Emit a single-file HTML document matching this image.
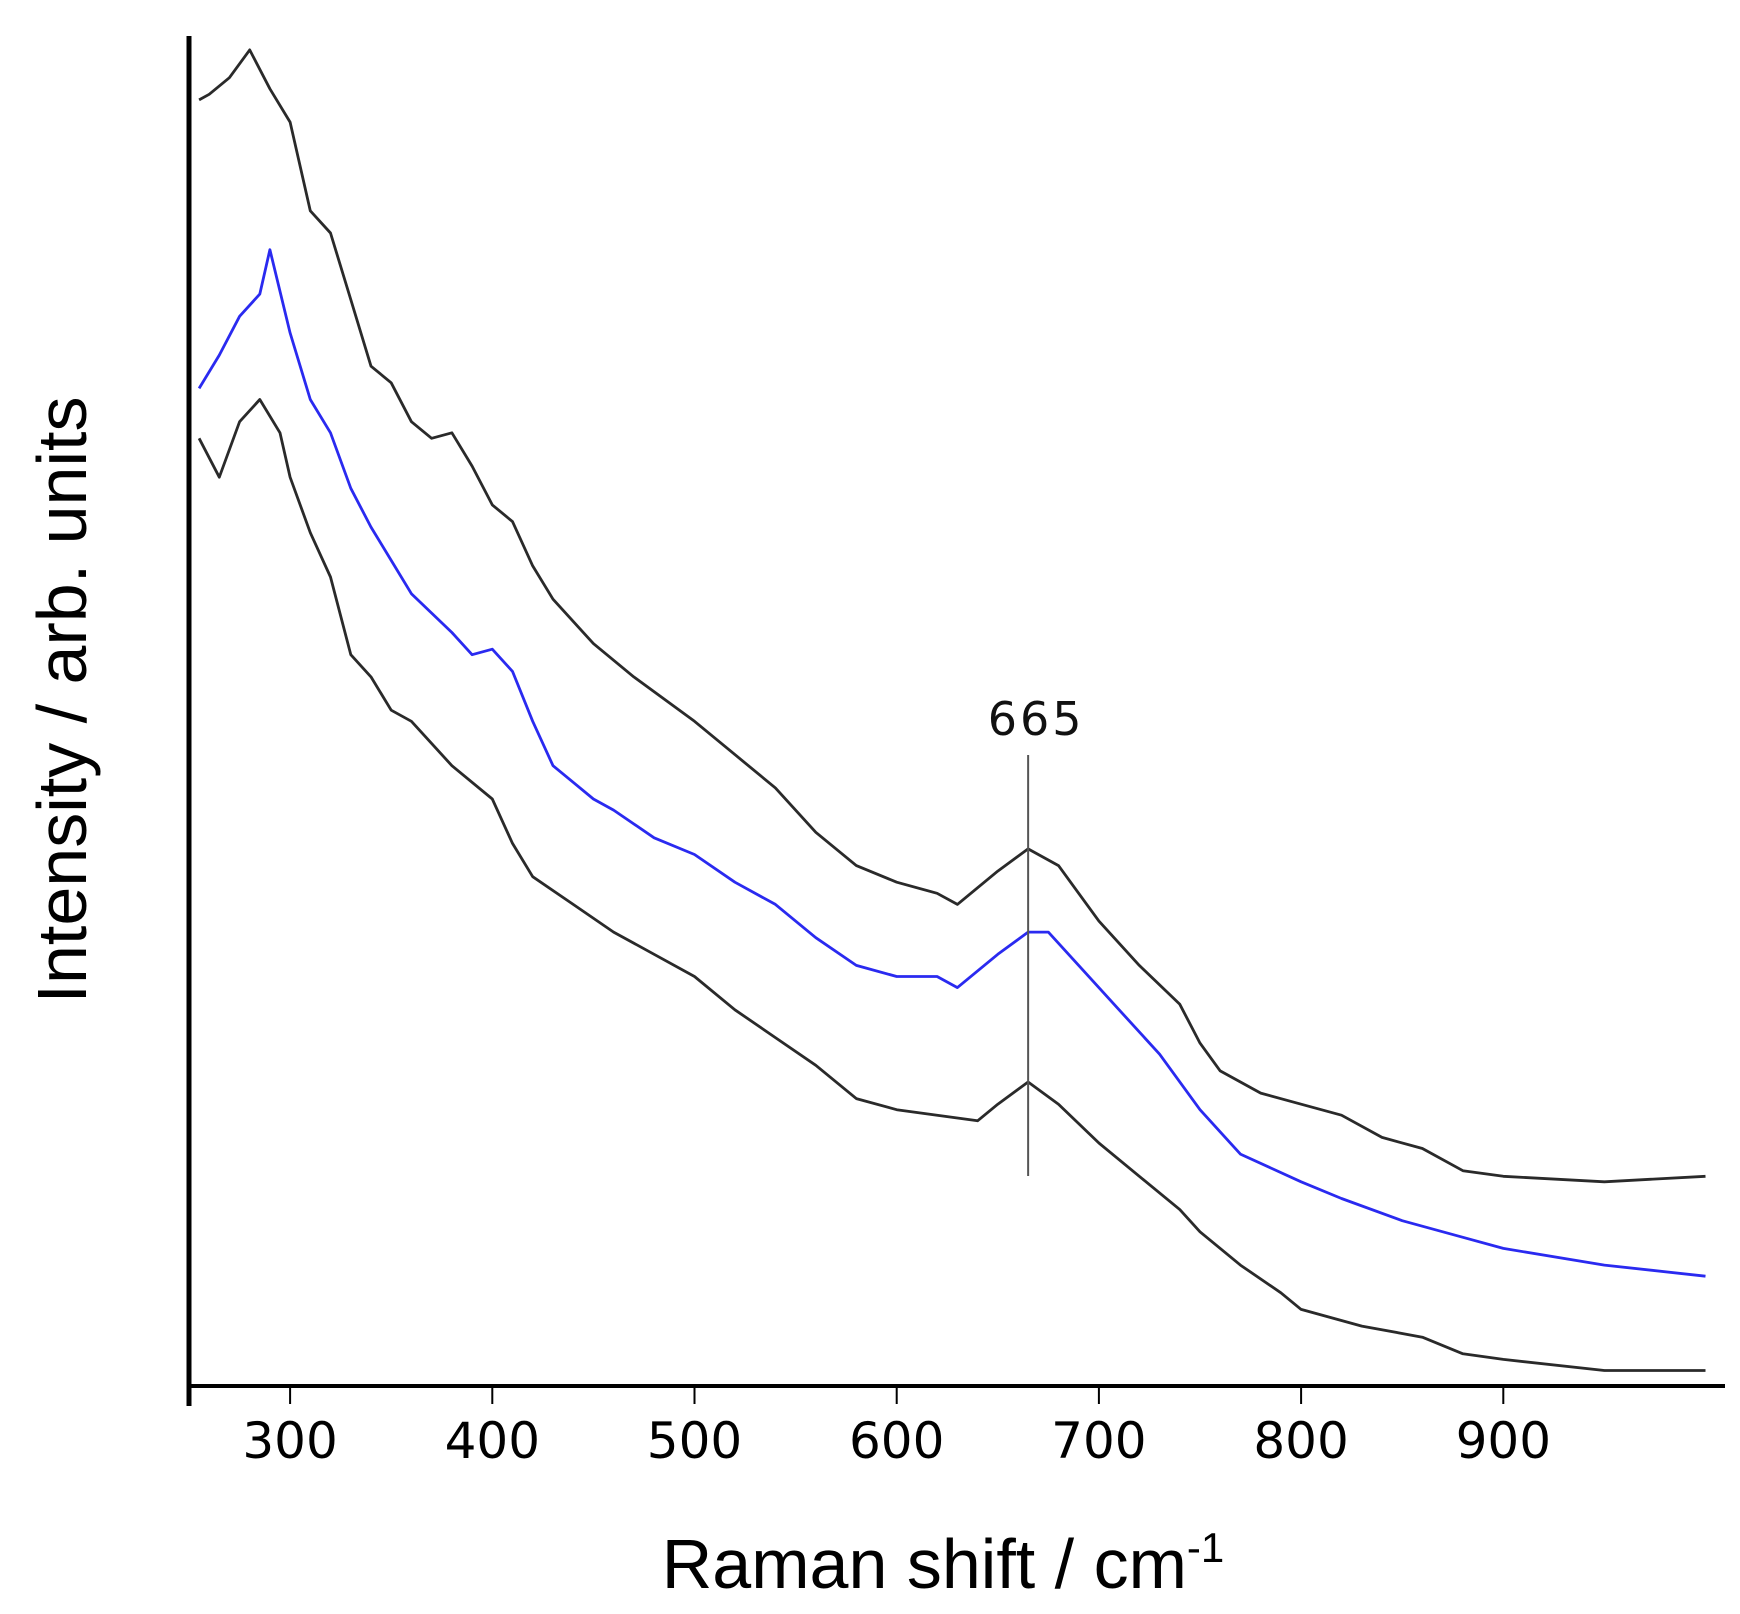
<!DOCTYPE html>
<html><head><meta charset="utf-8"><style>
html,body{margin:0;padding:0;background:#fff;}
svg{display:block;font-family:"DejaVu Sans","Liberation Sans",sans-serif;}
</style></head><body>
<svg id="chart" width="1740" height="1614" viewBox="0 0 1740 1614">
<g id="series"></g>
<g id="axes"></g>
</svg>
<script>
const ticks = [300,400,500,600,700,800,900];
const topX = [255,260,270,280,290,300,310,320,330,340,350,360,370,380,390,400,410,420,430,450,470,500,520,540,560,580,600,620,630,650,665,680,700,720,740,750,760,780,800,820,840,860,880,900,950,1000];
const topY = [1160,1165,1180,1205,1170,1140,1060,1040,980,920,905,870,855,860,830,795,780,740,710,670,640,600,570,540,500,470,455,445,435,465,485,470,420,380,345,310,285,265,255,245,225,215,195,190,185,190];
const blueX = [255,265,275,285,290,300,310,320,330,340,350,360,380,390,400,410,420,430,440,450,460,480,500,520,540,560,580,600,620,630,650,665,675,690,710,730,750,770,800,820,850,880,900,950,1000];
const blueY = [900,930,965,985,1025,950,890,860,810,775,745,715,680,660,665,645,600,560,545,530,520,495,480,455,435,405,380,370,370,360,390,410,410,380,340,300,250,210,185,170,150,135,125,110,100];
const botX = [255,265,275,285,295,300,310,320,330,340,350,360,380,400,410,420,440,460,480,500,520,540,560,580,600,620,640,650,665,680,700,720,740,750,770,790,800,830,860,880,900,950,1000];
const botY = [855,820,870,890,860,820,770,730,660,640,610,600,560,530,490,460,435,410,390,370,340,315,290,260,250,245,240,255,275,255,220,190,160,140,110,85,70,55,45,30,25,15,15];
const peakPos = 665;

const NS="http://www.w3.org/2000/svg";
const xS = v => 189 + (v-250)*2.022;
const yS = v => (1250 - v)*1.1097;
const sg=document.getElementById('series'), ag=document.getElementById('axes');
function mk(tag, attrs, parent){const e=document.createElementNS(NS,tag);for(const k in attrs)e.setAttribute(k,attrs[k]);parent.appendChild(e);return e;}
function line(xs, ys, color, name){
  const d = xs.map((x,i)=>(i?'L':'M')+xS(x).toFixed(1)+' '+yS(ys[i]).toFixed(1)).join(' ');
  const p = mk('path',{d:d,fill:'none',stroke:color,'stroke-width':2.8,'stroke-linejoin':'round'},sg);
  
  
}
line(topX, topY, '#2a2a2a', 'spectrum-top');
line(blueX, blueY, '#2a2af0', 'spectrum-blue');
line(botX, botY, '#2a2a2a', 'spectrum-bottom');

const px = xS(peakPos);
const pm = mk('line',{x1:px,y1:755,x2:px,y2:1176,stroke:'#555','stroke-width':2},ag);


const pl = mk('text',{x:px+8,y:735,'font-size':46,'text-anchor':'middle',fill:'#111','letter-spacing':3},ag);
pl.textContent = String(peakPos);



const ya = mk('line',{x1:189,y1:36,x2:189,y2:1406,stroke:'#000','stroke-width':5},ag);


const xa = mk('line',{x1:187,y1:1386,x2:1725,y2:1386,stroke:'#000','stroke-width':4},ag);


ticks.forEach(t=>{
  const tk = mk('line',{x1:xS(t),y1:1386,x2:xS(t),y2:1404,stroke:'#000','stroke-width':2},ag);
  
  
  const tl = mk('text',{x:xS(t),y:1458,'font-size':50,'text-anchor':'middle',fill:'#000'},ag);
  tl.textContent = t;
  
  
});
const xt = mk('text',{x:943,y:1588,'font-size':70,'text-anchor':'middle',fill:'#000','font-family':'"Liberation Sans", sans-serif'},ag);
xt.innerHTML = 'Raman shift / cm<tspan dy="-26" font-size="42">-1</tspan>';


const yt = mk('text',{x:0,y:0,'font-size':70,'text-anchor':'middle',fill:'#000','font-family':'"Liberation Sans", sans-serif',transform:'translate(86,700) rotate(-90)'},ag);
yt.textContent = 'Intensity / arb. units';


</script>
</body></html>
